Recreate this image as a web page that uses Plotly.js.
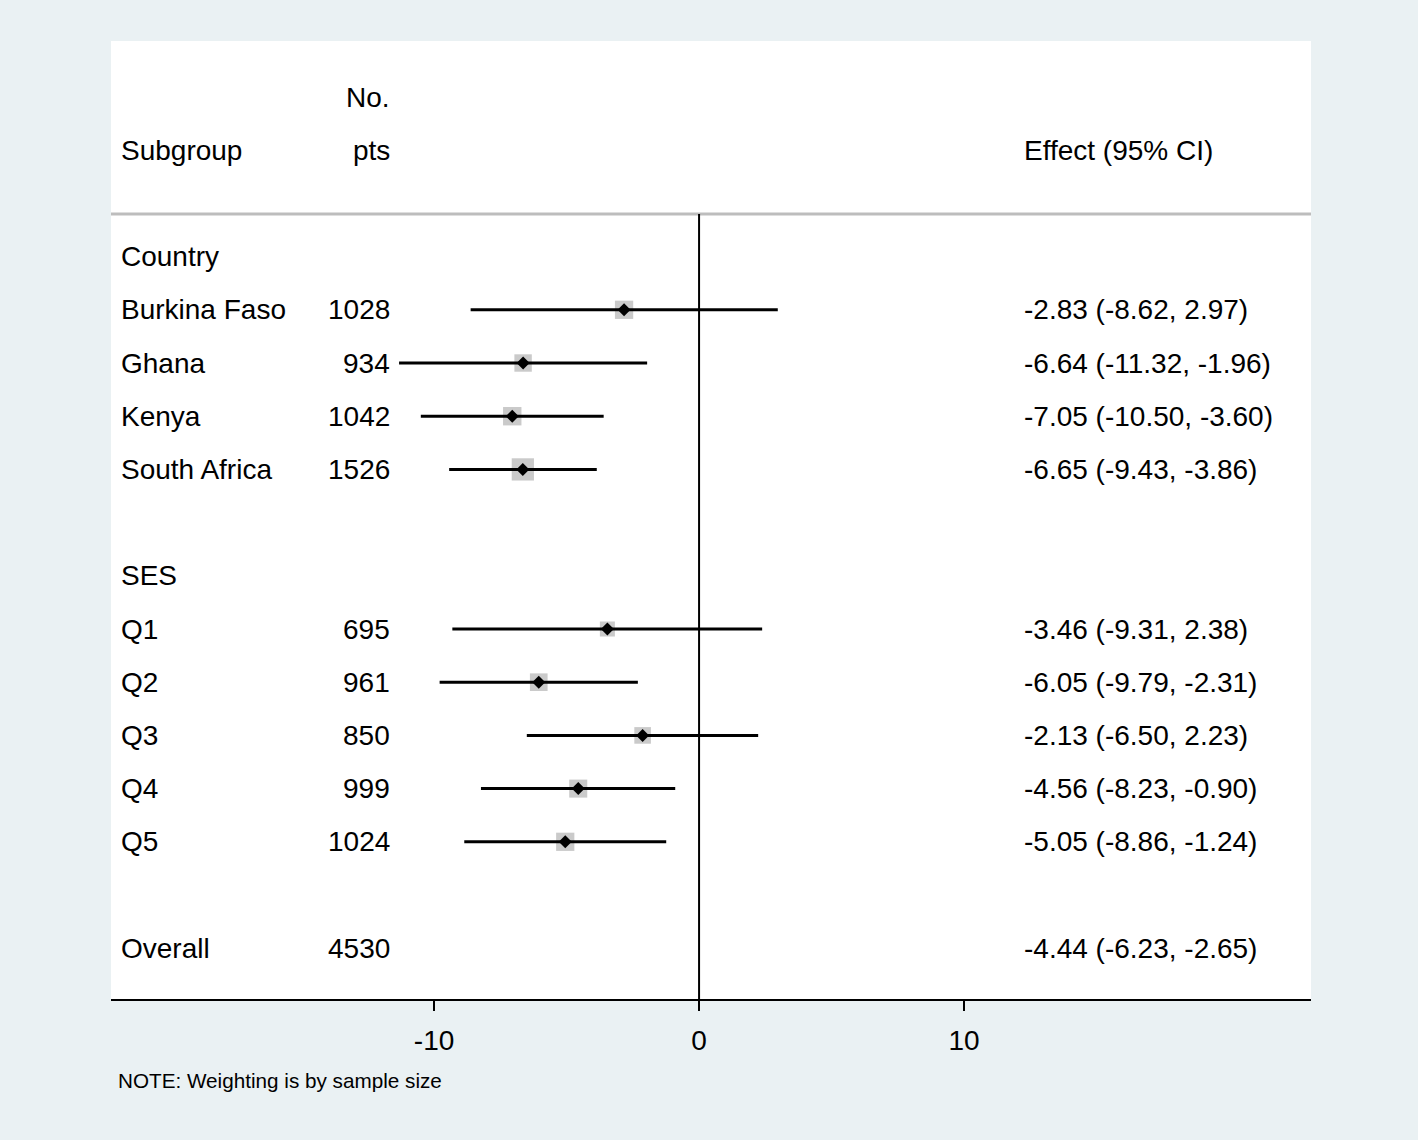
<!DOCTYPE html>
<html>
<head>
<meta charset="utf-8">
<script src="https://cdn.plot.ly/plotly-3.0.1.min.js"></script>
<style>html,body{margin:0;padding:0;background:#EAF1F3;}</style>
</head>
<body>
<div id="chart" style="width:1418px;height:1140px;"></div>
<script>
// ---- data ----
const labels = ["Country","Burkina Faso","Ghana","Kenya","South Africa","","SES","Q1","Q2","Q3","Q4","Q5","","Overall"];
const npts   = [null,1028,934,1042,1526,null,null,695,961,850,999,1024,null,4530];
const effect = [null,-2.83,-6.64,-7.05,-6.65,null,null,-3.46,-6.05,-2.13,-4.56,-5.05,null,-4.44];
const lower  = [null,-8.62,-11.32,-10.50,-9.43,null,null,-9.31,-9.79,-6.50,-8.23,-8.86,null,-6.23];
const upper  = [null,2.97,-1.96,-3.60,-3.86,null,null,2.38,-2.31,2.23,-0.90,-1.24,null,-2.65];
const showMarker = [false,true,true,true,true,false,false,true,true,true,true,true,false,false];
const xTicks = [-10,0,10];
const noteText = "NOTE: Weighting is by sample size";

// ---- layout helpers ----
const rowStart = 3; // first data row position
const rows = labels.map((_, i) => rowStart + i);
const font = "Liberation Sans, Arial, sans-serif";
const fs = 28;

const mx = [], my = [], msz = [], em = [], ep = [];
labels.forEach((l, i) => {
  if (showMarker[i]) {
    mx.push(effect[i]); my.push(rows[i]);
    msz.push(0.57 * Math.sqrt(npts[i]));
    em.push(effect[i] - lower[i]); ep.push(upper[i] - effect[i]);
  }
});

const traces = [
  {x: mx, y: my, type: 'scatter', mode: 'markers', hoverinfo: 'skip',
   marker: {symbol: 'square', size: msz, color: '#B4B4B4', line: {width: 0}}},
  {x: mx, y: my, type: 'scatter', mode: 'markers', hoverinfo: 'skip',
   marker: {symbol: 'diamond', size: 10, color: '#000'},
   error_x: {type: 'data', symmetric: false, array: ep, arrayminus: em,
             width: 0, thickness: 3, color: '#000'}}
];

const ann = [];
const xLab = 0.0067, xN = 0.2342, xEff = 0.7592;
const addText = (x, y, t, align) => ann.push({
  x: x, y: y, xref: 'paper', yref: 'y', text: t, showarrow: false,
  xanchor: align, yanchor: 'middle', font: {family: font, size: fs, color: '#000'}
});
addText(xN, 0, "No.", 'right');
addText(xLab, 1, "Subgroup", 'left');
addText(xN, 1, "pts", 'right');
addText(xEff, 1, "Effect (95% CI)", 'left');
labels.forEach((l, i) => {
  if (l) addText(xLab, rows[i], l, 'left');
  if (npts[i] != null) addText(xN, rows[i], String(npts[i]), 'right');
  if (effect[i] != null) addText(xEff, rows[i],
    effect[i].toFixed(2) + " (" + lower[i].toFixed(2) + ", " + upper[i].toFixed(2) + ")", 'left');
});
ann.push({x: 0.0042, y: -0.0846, xref: 'paper', yref: 'paper', text: noteText,
  showarrow: false, xanchor: 'left', yanchor: 'middle',
  font: {family: font, size: 20.7, color: '#000'}});

const headerY = 2.2;
const layout = {
  width: 1418, height: 1140,
  margin: {l: 111, r: 107, t: 41, b: 141},
  paper_bgcolor: '#EAF1F3', plot_bgcolor: '#FFFFFF',
  showlegend: false,
  font: {family: font, size: fs, color: '#000'},
  xaxis: {range: [-22.19, 23.09], tickvals: xTicks, ticktext: xTicks.map(String),
          showgrid: false, zeroline: false, showline: true, linecolor: '#000', linewidth: 2,
          ticks: 'outside', ticklen: 10, tickwidth: 2, tickcolor: '#000', ticklabelstandoff: 5,
          tickfont: {family: font, size: fs, color: '#000'}, fixedrange: true},
  yaxis: {range: [16.955, -1.053], showgrid: false, zeroline: false, showline: false,
          showticklabels: false, ticks: '', fixedrange: true},
  shapes: [
    {type: 'line', xref: 'paper', yref: 'y', x0: 0, x1: 1, y0: headerY, y1: headerY,
     line: {color: '#BDBDBD', width: 3}},
    {type: 'line', xref: 'x', yref: 'y', x0: 0, x1: 0, y0: headerY, y1: 16.955,
     line: {color: '#000', width: 2}}
  ],
  annotations: ann
};

Plotly.newPlot('chart', traces, layout, {displayModeBar: false, staticPlot: true});
</script>
</body>
</html>
